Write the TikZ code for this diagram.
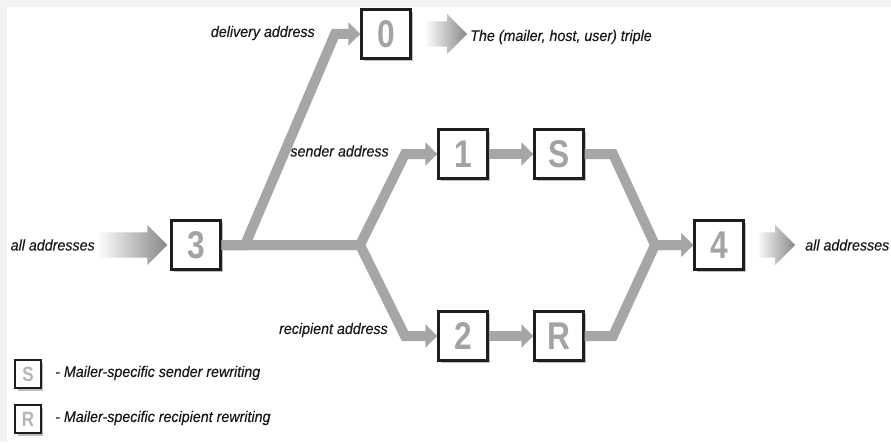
\documentclass[tikz,border=0pt]{standalone}
\usepackage{fontspec}
\setmainfont{Liberation Sans}
\newfontfamily\lblfont{Liberation Sans}[FakeStretch=0.93,FakeBold=0.3]
\newfontfamily\digfont{Liberation Sans}[FakeStretch=0.82]
\usetikzlibrary{arrows.meta,calc,shadows}
\definecolor{flowgray}{HTML}{A6A6A6}
\definecolor{diggray}{HTML}{A3A3A3}
\definecolor{edgegray}{HTML}{F3F3F3}
\definecolor{boxline}{HTML}{1E1E1E}
\definecolor{headgray}{HTML}{878787}
\newcommand\fatarrow[2]{%
  \path[left color=white,right color=headgray] let \p1=(#1), \p2=(#2) in
    (\x1,\y1+9.4pt) -- (\x2-15pt,\y1+9.4pt) -- (\x2-15pt,\y1+15pt) -- (\x2,\y1)
    -- (\x2-15pt,\y1-15pt) -- (\x2-15pt,\y1-9.4pt) -- (\x1,\y1-9.4pt) -- cycle;}
\begin{document}
\begin{tikzpicture}[x=0.75pt,y=-0.75pt,
  box/.style={draw=boxline,line width=2pt,fill=white,minimum width=36.5pt,minimum height=36.5pt,
    inner sep=0pt,font=\digfont\bfseries\fontsize{29}{29}\selectfont,text=diggray,
    drop shadow={shadow xshift=2pt,shadow yshift=-2pt,opacity=0.25,fill=black}},
  legbox/.style={box,line width=1.6pt,minimum width=19pt,minimum height=21pt,
    font=\digfont\bfseries\fontsize{15.5}{15.5}\selectfont,text=diggray!80},
  lbl/.style={font=\lblfont\itshape\fontsize{11.5}{13}\selectfont,inner sep=0pt,text=black!90},
  flow/.style={draw=flowgray,line width=7.5pt},
  flowarrow/.style={flow,-{Triangle[length=9pt,width=17pt]}}
]
\fill[edgegray] (0,0) rectangle (891,442);
\fill[white] (7,7) rectangle (891,442);
\useasboundingbox (0,0) rectangle (891,442);

% boxes
\node[box] (b0) at (386,34) {0};
\node[box] (b3) at (196,245) {3};
\node[box] (b1) at (463,154) {1};
\node[box] (bS) at (559,154) {S};
\node[box] (b4) at (719,245) {4};
\node[box] (b2) at (463,336) {2};
\node[box] (bR) at (559,336) {R};
\node[legbox] (lS) at (28,374) {S};
\node[legbox] (lR) at (28,419) {R};

% labels
\node[lbl,anchor=east] (ia) at (95,245) {all addresses};
\node[lbl,anchor=east] (ld) at (315,33) {delivery address};
\node[lbl,anchor=west] (tr) at (470,37) {The (mailer, host, user) triple};
\node[lbl,anchor=east] (ls) at (389,151) {sender address};
\node[lbl,anchor=east] (lr) at (388,330) {recipient address};
\node[lbl,anchor=west] (oa) at (805,245) {all addresses};
\node[lbl,anchor=west] (tS) at (55,373) {- Mailer-specific sender rewriting};
\node[lbl,anchor=west] (tR) at (55,418) {- Mailer-specific recipient rewriting};

% bend points
\coordinate (jD) at (245,245);
\coordinate (dT) at (335,34);
\coordinate (jA) at (360,245);
\coordinate (sT) at (405,154);
\coordinate (rB) at (405,336);
\coordinate (sO) at (613,154);
\coordinate (rO) at (613,336);
\coordinate (jB) at (655,245);

% flows
\draw[flowarrow] (b3.east) -- (jD) -- (dT) -- (b0.west);
\draw[flowarrow] (b3.east) -- (jA) -- (sT) -- (b1.west);
\draw[flowarrow] (b3.east) -- (jA) -- (rB) -- (b2.west);
\draw[flowarrow] (b1.east) -- (bS.west);
\draw[flowarrow] (b2.east) -- (bR.west);
\draw[flowarrow] (bS.east) -- (sO) -- (jB) -- (b4.west);
\draw[flowarrow] (bR.east) -- (rO) -- (jB) -- (b4.west);

% gradient arrows
\fatarrow{$(ia.east)+(2,0)$}{$(b3.west)+(-3,0)$}
\fatarrow{$(b0.east)+(13,0)$}{$(tr.west)+(-3,0)$}
\fatarrow{$(b4.east)+(12,0)$}{$(oa.west)+(-10,0)$}
\end{tikzpicture}
\end{document}
